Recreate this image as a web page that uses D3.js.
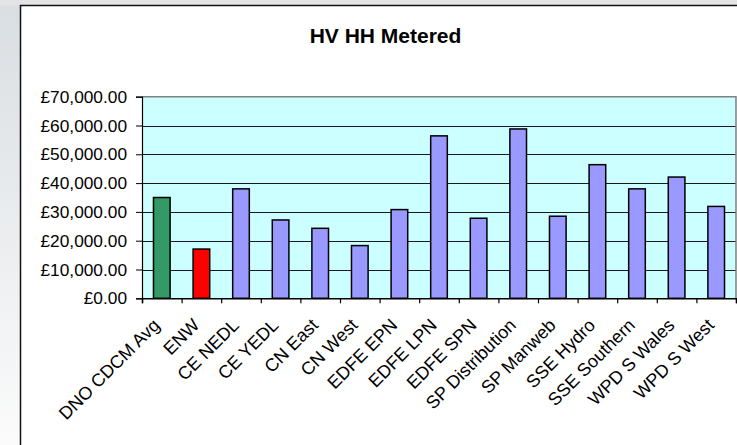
<!DOCTYPE html>
<html>
<head>
<meta charset="utf-8">
<script src="https://cdn.jsdelivr.net/npm/d3@7"></script>
<style>
  html, body { margin: 0; padding: 0; background: #fff; }
  svg { display: block; }
  text { font-family: "Liberation Sans", Arial, sans-serif; }
</style>
</head>
<body>
<svg id="chart" width="737" height="445"></svg>
<script>
// ---- data ----
const title = "HV HH Metered";
const categories = ["DNO CDCM Avg", "ENW", "CE NEDL", "CE YEDL", "CN East", "CN West",
  "EDFE EPN", "EDFE LPN", "EDFE SPN", "SP Distribution", "SP Manweb", "SSE Hydro",
  "SSE Southern", "WPD S Wales", "WPD S West"];
const values = [35000, 17100, 38000, 27200, 24300, 18300, 30800, 56400, 27800, 58800,
  28500, 46400, 38000, 42100, 31900];
const yTicks = [0, 10000, 20000, 30000, 40000, 50000, 60000, 70000];
const averageCategory = "DNO CDCM Avg";
const highlightCategory = "ENW";

// ---- layout ----
const W = 737, H = 445;
const plot = { left: 142, right: 736, top: 96.7, bottom: 298.3 };
const svg = d3.select("#chart");

// background
const defs = svg.append("defs");
const bg = defs.append("linearGradient").attr("id", "bg").attr("x1", 0).attr("y1", 0).attr("x2", 0).attr("y2", 1);
bg.append("stop").attr("offset", 0).attr("stop-color", "#d9dee2");
bg.append("stop").attr("offset", 1).attr("stop-color", "#fbfbfb");
svg.append("rect").attr("width", W).attr("height", H).attr("fill", "url(#bg)");
svg.append("rect").attr("x", 0).attr("y", 0).attr("width", W).attr("height", 5.5).attr("fill", "#e4e4e4");

// chart frame
svg.append("rect").attr("x", 20.5).attr("y", 5.5).attr("width", W + 20).attr("height", H + 20)
  .attr("fill", "#fff").attr("stroke", "#111").attr("stroke-width", 1.5);

// title
svg.append("text").attr("x", 385.5).attr("y", 42.7).attr("text-anchor", "middle")
  .attr("font-size", "21px").attr("font-weight", "bold").attr("fill", "#000").text(title);

// scales
const x = d3.scaleBand().domain(categories).range([plot.left, plot.right])
  .paddingInner(0.58).paddingOuter(0.29);
const xIdx = d3.scaleLinear().domain([0, categories.length]).range([plot.left, plot.right]);
const y = d3.scaleLinear().domain([0, 70000]).range([plot.bottom, plot.top]);

// plot area
svg.append("rect").attr("x", plot.left).attr("y", plot.top)
  .attr("width", plot.right - plot.left).attr("height", plot.bottom - plot.top)
  .attr("fill", "#ccffff");

// gridlines
svg.append("g").selectAll("line").data(yTicks.filter(d => d > 0 && d < 70000)).join("line")
  .attr("x1", plot.left).attr("x2", plot.right)
  .attr("y1", d => Math.round(y(d)) + 0.5).attr("y2", d => Math.round(y(d)) + 0.5)
  .attr("stroke", "#1a1a1a").attr("stroke-width", 1);

// plot border top/right
svg.append("path")
  .attr("d", `M${plot.left},${plot.top}H${plot.right}V${plot.bottom}`)
  .attr("fill", "none").attr("stroke", "#808080").attr("stroke-width", 1.5);

// bars
const colorOf = c => c === averageCategory ? "#339966" : (c === highlightCategory ? "#ff0000" : "#9999ff");
svg.append("g").selectAll("rect").data(categories).join("rect")
  .attr("x", c => x(c))
  .attr("y", (c, i) => y(values[i]))
  .attr("width", x.bandwidth())
  .attr("height", (c, i) => y(0) - y(values[i]))
  .attr("fill", c => colorOf(c))
  .attr("stroke", "#000").attr("stroke-width", 1.5);

// y axis
const yAxis = svg.append("g").attr("transform", `translate(${plot.left},0)`)
  .call(d3.axisLeft(y).tickValues(yTicks).tickSize(6).tickPadding(9)
    .tickFormat(d => "£" + d3.format(",.2f")(d)));
yAxis.select(".domain").attr("stroke", "#000").attr("stroke-width", 1.2);
yAxis.selectAll(".tick line").attr("stroke", "#000");
yAxis.selectAll("text").attr("font-size", "17.3px").attr("fill", "#000")
  .attr("font-family", "Liberation Sans, Arial, sans-serif");

// x axis (tick marks at category boundaries)
const xAxis = svg.append("g").attr("transform", `translate(0,${plot.bottom})`)
  .call(d3.axisBottom(xIdx).tickValues(d3.range(categories.length + 1)).tickSize(5).tickFormat(""));
xAxis.select(".domain").attr("stroke", "#000").attr("stroke-width", 1.5);
xAxis.selectAll(".tick line").attr("stroke", "#000").attr("stroke-width", 1.2);

// category labels
svg.append("g").selectAll("text").data(categories).join("text")
  .attr("transform", c => `translate(${x(c) + x.bandwidth() / 2 - 1},${plot.bottom + 28}) rotate(-45)`)
  .attr("text-anchor", "end")
  .attr("font-size", "18px").attr("fill", "#000")
  .text(c => c);
</script>
</body>
</html>
